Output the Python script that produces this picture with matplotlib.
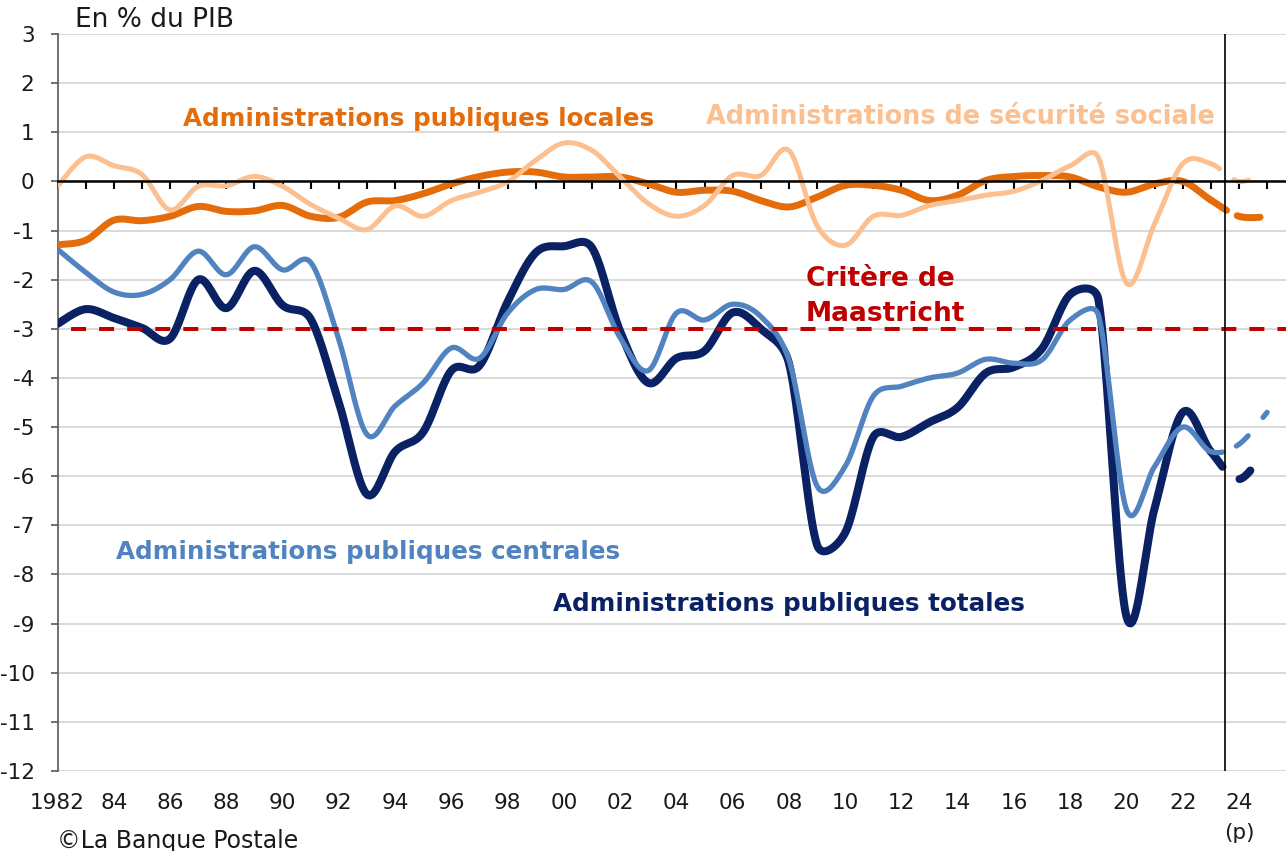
import matplotlib
matplotlib.use('Agg')
import matplotlib.pyplot as plt
import numpy as np

plt.rcParams['font.family'] = ['DejaVu Sans']
plt.rcParams['lines.scale_dashes'] = False

# soldes publics en % du PIB, 2024-2025 = prevision
years = np.arange(1982, 2026)
totales = [-2.9, -2.6, -2.78, -2.98, -3.2, -2.0, -2.58, -1.82, -2.52, -2.8,
           -4.5, -6.37, -5.5, -5.1, -3.85, -3.75, -2.45, -1.45, -1.32, -1.35,
           -3.05, -4.1, -3.6, -3.45, -2.67, -3.0, -3.7, -7.4, -7.15, -5.2,
           -5.2, -4.9, -4.6, -3.9, -3.78, -3.4, -2.3, -2.4, -8.86, -6.65,
           -4.7, -5.5, -6.06, -5.4]
centrales = [-1.38, -1.85, -2.25, -2.3, -2.0, -1.42, -1.9, -1.33, -1.8, -1.65,
             -3.22, -5.15, -4.57, -4.1, -3.39, -3.6, -2.68, -2.2, -2.2, -2.05,
             -3.18, -3.85, -2.68, -2.82, -2.5, -2.75, -3.63, -6.2, -5.8, -4.37,
             -4.17, -4.0, -3.9, -3.62, -3.7, -3.63, -2.82, -2.72, -6.68, -5.8,
             -5.0, -5.5, -5.35, -4.7]
locales = [-1.29, -1.2, -0.79, -0.8, -0.71, -0.51, -0.61, -0.6, -0.49, -0.71,
           -0.73, -0.42, -0.39, -0.25, -0.05, 0.1, 0.19, 0.19, 0.09, 0.09,
           0.09, -0.05, -0.22, -0.18, -0.2, -0.39, -0.52, -0.32, -0.08, -0.08,
           -0.18, -0.39, -0.28, 0.02, 0.1, 0.12, 0.09, -0.11, -0.22, -0.05,
           0.0, -0.38, -0.71, -0.72]
secu = [-0.1, 0.5, 0.32, 0.14, -0.58, -0.1, -0.09, 0.1, -0.1, -0.47,
        -0.75, -0.98, -0.5, -0.71, -0.39, -0.22, -0.01, 0.43, 0.78, 0.63,
        0.09, -0.45, -0.71, -0.49, 0.12, 0.12, 0.63, -0.9, -1.3, -0.71,
        -0.69, -0.49, -0.39, -0.28, -0.2, 0.02, 0.32, 0.49, -2.07, -0.86,
        0.36, 0.36, 0.0, 0.2]
critere = -3.0
fin_realise = 2023
separation = 2023.5

yticks = np.arange(-12, 4)
xtick_years = np.arange(1982, 2025, 2)
xtick_labels = ['1982'] + ['%02d' % (y % 100) for y in xtick_years[1:]]

xmin, xmax = 1982, 2025.67
ymin, ymax = -12, 3
# pixels par annee / par point de PIB (pour le lissage facon Excel)
sx = 1228.5 / (xmax - xmin)
sy = 737 / (ymax - ymin)


def lisse(x, y, n=20):
    # bezier lisse comme Excel : tension 1/6, bras limite a la moitie du segment
    pts = np.column_stack([np.asarray(x, float) * sx, np.asarray(y, float) * sy])
    ext = np.vstack([pts[0], pts, pts[-1]])
    t = np.linspace(0, 1, n, endpoint=False)[:, None]
    out = []
    for i in range(len(pts) - 1):
        p0, p1, p2, p3 = ext[i], ext[i + 1], ext[i + 2], ext[i + 3]
        d12 = np.hypot(*(p2 - p1))
        t1, t2 = p2 - p0, p3 - p1
        l1, l2 = np.hypot(*t1), np.hypot(*t2)
        f1 = 1 / 6 if l1 / 6 <= d12 / 2 else d12 / (2 * l1)
        f2 = 1 / 6 if l2 / 6 <= d12 / 2 else d12 / (2 * l2)
        b1 = p1 + t1 * f1
        b2 = p2 - t2 * f2
        out.append((1 - t) ** 3 * p1 + 3 * (1 - t) ** 2 * t * b1
                   + 3 * (1 - t) * t ** 2 * b2 + t ** 3 * p2)
    out.append(pts[-1:])
    c = np.vstack(out)
    return c[:, 0] / sx, c[:, 1] / sy


fig = plt.figure(figsize=(12.86, 8.51), dpi=100)
ax = fig.add_axes([57.5 / 1286, 1 - 771 / 851, 1228.5 / 1286, 737 / 851])

series = [
    (totales, '#0A2263', 5.8, (0, (13.7, 15.8, 10.1, 49))),
    (centrales, '#5083C0', 3.8, (0, (8.4, 11, 11.3, 17))),
    (locales, '#E46C0A', 5.0, (0, (13.5, 8.6, 16.6, 30))),
    (secu, '#FCC090', 3.6, (0, (7.2, 13, 11, 25))),
]
for vals, col, lw, ds in series:
    xs, ys = lisse(years, vals)
    m = xs <= fin_realise + 1e-9
    ax.plot(xs[m], ys[m], color=col, lw=lw, solid_capstyle='round',
            solid_joinstyle='round', zorder=3)
    m = xs >= fin_realise - 1e-9
    ax.plot(xs[m], ys[m], color=col, lw=lw, linestyle=ds,
            dash_capstyle='round', zorder=3)

ax.axhline(critere, color='#C00000', lw=2.9, linestyle=(10.8, (10.8, 9.4)),
           dash_capstyle='butt', zorder=4)
ax.axvline(separation, color='black', lw=1.2, zorder=6)

ax.set_xlim(xmin, xmax)
ax.set_ylim(ymin, ymax)

ax.spines['top'].set_visible(False)
ax.spines['right'].set_visible(False)
ax.spines['left'].set_color('#595959')
ax.spines['left'].set_linewidth(1.2)
ax.spines['bottom'].set_position(('data', 0))
ax.spines['bottom'].set_color('black')
ax.spines['bottom'].set_linewidth(1.8)
ax.spines['bottom'].set_zorder(5)

ax.set_xticks(years)
ax.tick_params(axis='x', direction='out', length=5.8, width=1.5,
               color='black', labelbottom=False)
ax.set_yticks(yticks)
ax.set_yticklabels([str(v) for v in yticks])
ax.tick_params(axis='y', direction='out', length=5, width=1.2,
               color='#595959', pad=11.5, labelsize=15.5, labelcolor='#1a1a1a')
ax.yaxis.grid(True, color='#d0d0d0', lw=1.1)
ax.set_axisbelow(True)

sec = ax.secondary_xaxis(0)
sec.set_xticks(xtick_years)
sec.set_xticklabels(xtick_labels)
sec.tick_params(length=0, pad=16, labelsize=15.5, labelcolor='#1a1a1a')
sec.spines['bottom'].set_visible(False)

ax.text(1986.46, 1.128, 'Administrations publiques locales', color='#E46C0A',
        fontsize=17.7, fontweight='bold', va='baseline')
ax.text(2005.05, 1.168, 'Administrations de sécurité sociale', color='#FCC090',
        fontsize=18.4, fontweight='bold', va='baseline')
ax.text(2008.61, -2.13, 'Critère de', color='#C00000',
        fontsize=19, fontweight='bold', va='baseline')
ax.text(2008.61, -2.84, 'Maastricht', color='#C00000',
        fontsize=19, fontweight='bold', va='baseline')
ax.text(1984.08, -7.685, 'Administrations publiques centrales', color='#5083C0',
        fontsize=17.7, fontweight='bold', va='baseline')
ax.text(1999.61, -8.74, 'Administrations publiques totales', color='#0A2263',
        fontsize=17.7, fontweight='bold', va='baseline')

fig.text(75 / 1286, 1 - 27 / 851, 'En % du PIB', fontsize=19,
         color='#1a1a1a', va='baseline')
fig.text(1239 / 1286, 1 - 833 / 851, '(p)', fontsize=15.5, color='#1a1a1a',
         ha='center', va='center')
fig.text(57 / 1286, 1 - 848 / 851, '©La Banque Postale', fontsize=17,
         color='#1a1a1a', va='baseline')

fig.savefig('out.png', dpi=100)
